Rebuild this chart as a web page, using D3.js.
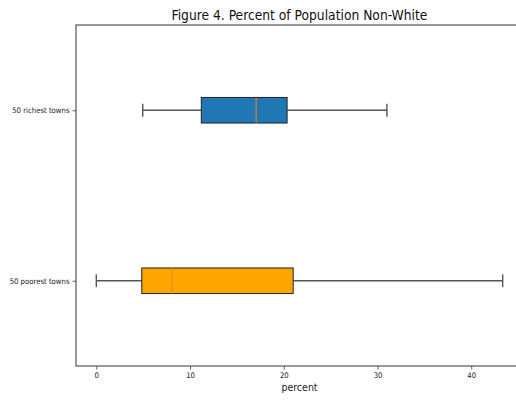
<!DOCTYPE html>
<html>
<head>
<meta charset="utf-8">
<script src="https://cdn.jsdelivr.net/npm/d3@7"></script>
<style>
  body { margin: 0; background: #fff; }
  text { font-family: "DejaVu Sans Condensed", "DejaVu Sans", sans-serif; font-stretch: condensed; }
</style>
</head>
<body>
<svg id="visu" width="516" height="402"></svg>
<script>
// box plot stats
var groups = ["50 poorest towns", "50 richest towns"];
var whiskerLow = [0, 4.95];
var q1 = [4.85, 11.2];
var median = [8.05, 17.05];
var q3 = [21.0, 20.35];
var whiskerHigh = [43.35, 31.0];
var boxColors = ["#ffa500", "#1f77b4"];
var xTicks = [0, 10, 20, 30, 40];

var vis = d3.select("#visu"),
    MARGINS = { top: 25, left: 76, bottom: 366, right: 523 };

var xMin = d3.min(whiskerLow), xMax = d3.max(whiskerHigh),
    pad = (xMax - xMin) * 0.05;

var xScale = d3.scaleLinear()
    .domain([xMin - pad, xMax + pad])
    .range([MARGINS.left, MARGINS.right]);
var yScale = d3.scaleLinear()
    .domain([0.5, 2.5])
    .range([MARGINS.bottom, MARGINS.top]);

var boxH = yScale(0.5) - yScale(0.65);

var data = groups.map(function(g, i) {
    return { name: g, pos: i + 1, lo: whiskerLow[i], q1: q1[i], med: median[i],
             q3: q3[i], hi: whiskerHigh[i], color: boxColors[i] };
});

// axes
var xAxis = d3.axisBottom(xScale).tickValues(xTicks).tickSize(3.5).tickPadding(3);
var yAxis = d3.axisLeft(yScale).tickValues([1, 2])
    .tickFormat(function(d) { return groups[d - 1]; }).tickSize(3.5).tickPadding(3);

var gx = vis.append("g")
    .attr("transform", "translate(0," + MARGINS.bottom + ")")
    .call(xAxis);
var gy = vis.append("g")
    .attr("transform", "translate(" + MARGINS.left + ",0)")
    .call(yAxis);
[gx, gy].forEach(function(g) {
    g.select(".domain").remove();
    g.selectAll(".tick line").attr("stroke", "#333").attr("stroke-width", 0.8);
    g.selectAll(".tick text").attr("fill", "#222").style("font-size", "7.7px");
});

// frame
vis.append("rect")
    .attr("x", MARGINS.left).attr("y", MARGINS.top)
    .attr("width", MARGINS.right - MARGINS.left)
    .attr("height", MARGINS.bottom - MARGINS.top)
    .attr("fill", "none").attr("stroke", "#555").attr("stroke-width", 1.2);

var boxes = vis.selectAll(".box").data(data).enter().append("g").attr("class", "box");

boxes.append("line")
    .attr("x1", function(d) { return xScale(d.lo); })
    .attr("x2", function(d) { return xScale(d.q1); })
    .attr("y1", function(d) { return yScale(d.pos); })
    .attr("y2", function(d) { return yScale(d.pos); });
boxes.append("line")
    .attr("x1", function(d) { return xScale(d.q3); })
    .attr("x2", function(d) { return xScale(d.hi); })
    .attr("y1", function(d) { return yScale(d.pos); })
    .attr("y2", function(d) { return yScale(d.pos); });
boxes.append("line")
    .attr("x1", function(d) { return xScale(d.lo); })
    .attr("x2", function(d) { return xScale(d.lo); })
    .attr("y1", function(d) { return yScale(d.pos) - boxH / 4; })
    .attr("y2", function(d) { return yScale(d.pos) + boxH / 4; });
boxes.append("line")
    .attr("x1", function(d) { return xScale(d.hi); })
    .attr("x2", function(d) { return xScale(d.hi); })
    .attr("y1", function(d) { return yScale(d.pos) - boxH / 4; })
    .attr("y2", function(d) { return yScale(d.pos) + boxH / 4; });
boxes.selectAll("line").attr("stroke", "#555").attr("stroke-width", 1.4);

boxes.append("rect")
    .attr("x", function(d) { return xScale(d.q1); })
    .attr("width", function(d) { return xScale(d.q3) - xScale(d.q1); })
    .attr("y", function(d) { return yScale(d.pos) - boxH / 2; })
    .attr("height", boxH)
    .attr("fill", function(d) { return d.color; })
    .attr("stroke", "#222").attr("stroke-width", 1);

boxes.append("line")
    .attr("x1", function(d) { return xScale(d.med); })
    .attr("x2", function(d) { return xScale(d.med); })
    .attr("y1", function(d) { return yScale(d.pos) - boxH / 2; })
    .attr("y2", function(d) { return yScale(d.pos) + boxH / 2; })
    .attr("stroke", "#ff7f0e").attr("stroke-width", 1);

// labels
vis.append("text")
    .attr("x", (MARGINS.left + MARGINS.right) / 2).attr("y", 20)
    .attr("text-anchor", "middle").attr("fill", "#111")
    .style("font-size", "13.7px")
    .text("Figure 4. Percent of Population Non-White");
vis.append("text")
    .attr("x", (MARGINS.left + MARGINS.right) / 2).attr("y", 391)
    .attr("text-anchor", "middle").attr("fill", "#222")
    .style("font-size", "10.5px")
    .text("percent");
</script>
</body>
</html>
